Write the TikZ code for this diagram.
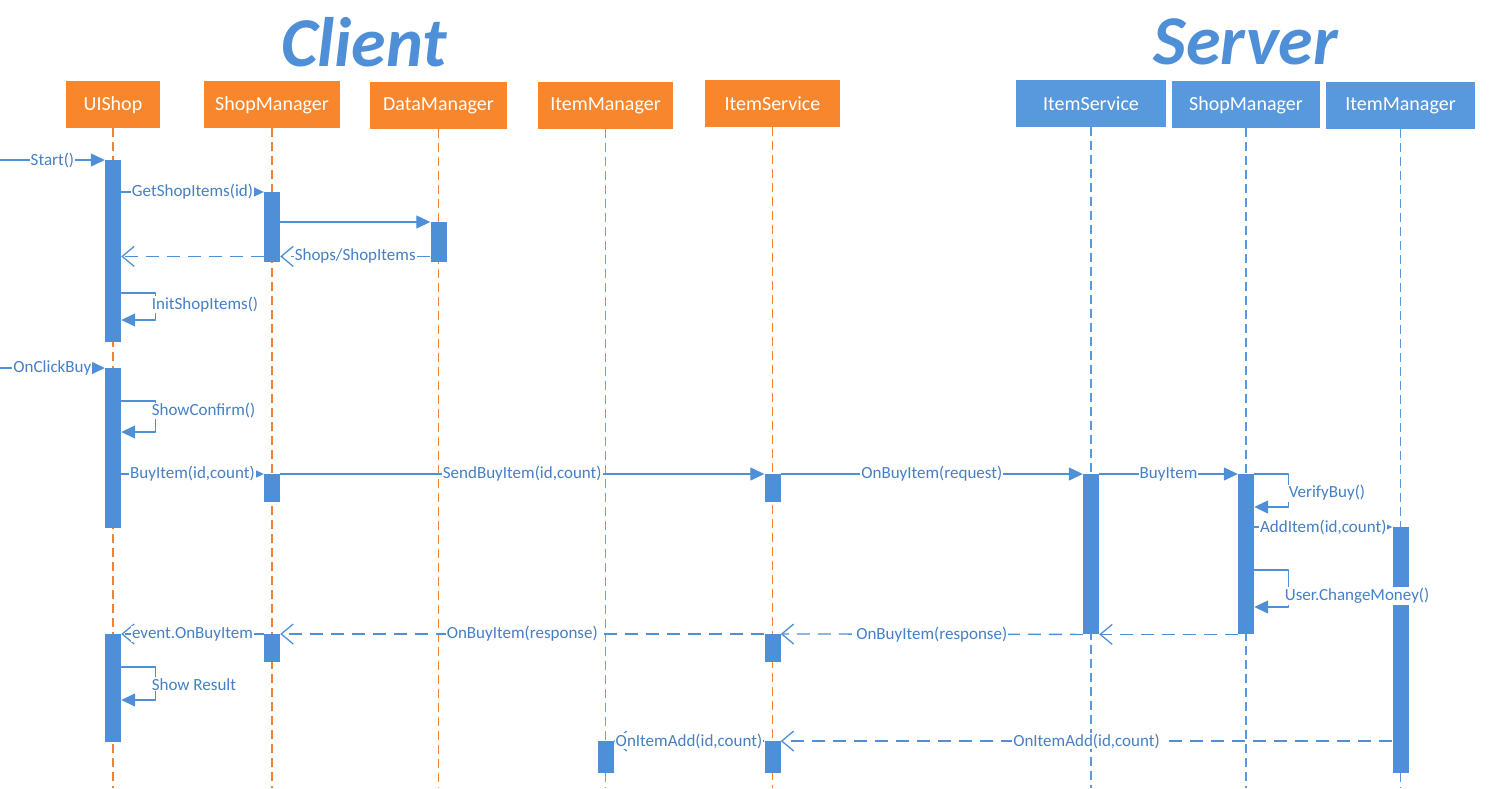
\documentclass[tikz,border=0pt]{standalone}
\usepackage{fontspec}
\setmainfont{Carlito}
\usetikzlibrary{arrows.meta}
\definecolor{corange}{HTML}{F7862C}
\definecolor{cline}{HTML}{F08232}
\definecolor{cblue}{HTML}{5898DC}
\definecolor{cbar}{HTML}{4E8FD8}
\definecolor{ctext}{HTML}{4580C6}
\begin{document}
\begin{tikzpicture}[x=1pt, y=-1pt, line join=round, font=\fontsize{17}{18}\selectfont,
  head/.style={minimum height=47pt, inner sep=0pt, anchor=base, text=white, font=\fontsize{20}{21}\selectfont},
  chead/.style={head, fill=corange, minimum width=136pt},
  shead/.style={head, fill=cblue, minimum width=149pt},
  clife/.style={cline, line width=1.3pt, dash pattern=on 9pt off 5pt},
  slife/.style={cblue, line width=1.3pt, dash pattern=on 9pt off 5pt},
  bar/.style={fill=cbar, minimum width=16pt, inner sep=0pt, anchor=north},
  msg/.style={cbar, line width=1.3pt, -{Triangle[length=14pt,width=13pt]}},
  ret/.style={cbar, line width=1.3pt, dash pattern=on 13pt off 8pt, -{Straight Barb[length=12pt,width=20pt]}},
  lbl/.style={fill=white, text=ctext, inner sep=1pt},
  title/.style={text=cbar, font=\fontsize{70}{70}\selectfont\bfseries\itshape}]
\useasboundingbox (0,0) rectangle (1500,788);
\coordinate (bot) at (0,788); \coordinate (in1) at (0,160); \coordinate (in2) at (0,368);
\node[title] (client) at (364,42) {Client}; \node[title] (server) at (1246,42) {Server};
% lifelines
\node[chead, minimum width=94pt] (ui) at (113,110) {UIShop};
\node[chead] (sm) at (272,110) {ShopManager};
\node[chead, minimum width=137pt] (dm) at (438.5,110) {DataManager};
\node[chead, minimum width=135pt] (cim) at (605.5,110) {ItemManager};
\node[chead, minimum width=135pt] (cs) at (772.5,110) {ItemService};
\node[shead, minimum width=150pt] (ss) at (1091,110) {ItemService};
\node[shead, minimum width=148pt] (ssm) at (1246,110) {ShopManager};
\node[shead] (sim) at (1400.5,110) {ItemManager};
\foreach \n in {ui,sm,dm,cim,cs} \draw[clife] (\n.south) -- (\n |- bot);
\foreach \n in {ss,ssm,sim} \draw[slife] (\n.south) -- (\n |- bot);
% activations
\node[bar, minimum height=182pt] (ui1) at (ui |- 0,160) {};
\node[bar, minimum height=160pt] (ui2) at (ui |- 0,368) {};
\node[bar, minimum height=108pt] (ui3) at (ui |- 0,634) {};
\node[bar, minimum height=70pt] (sm1) at (sm |- 0,192) {};
\node[bar, minimum height=28pt] (sm2) at (sm |- 0,474) {};
\node[bar, minimum height=28pt] (sm3) at (sm |- 0,634) {};
\node[bar, minimum height=40pt] (dm1) at (dm |- 0,222) {};
\node[bar, minimum height=32pt] (cim1) at (cim |- 0,741) {};
\node[bar, minimum height=28pt] (cs1) at (cs |- 0,474) {};
\node[bar, minimum height=28pt] (cs2) at (cs |- 0,634) {};
\node[bar, minimum height=32pt] (cs3) at (cs |- 0,741) {};
\node[bar, minimum height=160pt] (ss1) at (ss |- 0,474) {};
\node[bar, minimum height=160pt] (ssm1) at (ssm |- 0,474) {};
\node[bar, minimum height=246pt] (sim1) at (sim |- 0,527) {};
% messages
\draw[msg] (in1) -- (ui1.north west) node[lbl, midway]{Start()};
\draw[msg] (ui1.east |- sm1.north) -- (sm1.north west) node[lbl, midway]{GetShopItems(id)};
\draw[msg] (sm1.east |- dm1.north) -- (dm1.north west);
\coordinate (r1) at ([yshift=6pt]dm1.south west); \coordinate (r2) at ([yshift=6pt]sm1.south west);
\draw[ret] (r1) -- (sm1.east |- r1) node[lbl, midway]{Shops/ShopItems};
\draw[ret] (r2) -- (ui1.east |- r2);
\draw[msg] (ui1.east |- 0,293) -- ++(34,0) |- (ui1.east |- 0,320) node[lbl, pos=0.22, anchor=west, xshift=-5pt]{InitShopItems()};
\draw[msg] (in2) -- (ui2.north west) node[lbl, midway]{OnClickBuy};
\draw[msg] (ui2.east |- 0,401) -- ++(34,0) |- (ui2.east |- 0,432) node[lbl, pos=0.16, anchor=west, xshift=-5pt]{ShowConfirm()};
\draw[msg] (ui2.east |- sm2.north) -- (sm2.north west) node[lbl, midway]{BuyItem(id,count)};
\draw[msg] (sm2.north east) -- (cs1.north west) node[lbl, midway]{SendBuyItem(id,count)};
\draw[msg] (cs1.north east) -- (ss1.north west) node[lbl, midway]{OnBuyItem(request)};
\draw[msg] (ss1.north east) -- (ssm1.north west) node[lbl, midway]{BuyItem};
\draw[msg] (ssm1.north east) -- ++(34,0) |- (ssm1.east |- 0,507) node[lbl, pos=0.29, anchor=west, xshift=-1pt]{VerifyBuy()};
\draw[msg] (ssm1.east |- sim1.north) -- (sim1.north west) node[lbl, midway]{AddItem(id,count)};
\draw[msg] (ssm1.east |- 0,570) -- ++(34,0) |- (ssm1.east |- 0,607) node[lbl, pos=0.35, anchor=west, xshift=-5pt]{User.ChangeMoney()};
\draw[ret] (ssm1.south west) -- (ss1.south east);
\draw[ret] (ss1.south west) -- (cs2.north east) node[lbl, midway]{OnBuyItem(response)};
\draw[ret] (cs2.north west) -- (sm3.north east) node[lbl, midway]{OnBuyItem(response)};
\draw[ret] (sm3.north west) -- (ui3.north east) node[lbl, midway]{event.OnBuyItem};
\draw[msg] (ui3.east |- 0,667) -- ++(34,0) |- (ui3.east |- 0,700) node[lbl, pos=0.26, anchor=west, xshift=-5pt]{Show Result};
\draw[ret] (sim1.west |- cs3.north) -- (cs3.north east) node[lbl, midway]{OnItemAdd(id,count)};
\draw[ret] (cs3.north west) -- (cim1.north east) node[lbl, midway]{OnItemAdd(id,count)};
\end{tikzpicture}
\end{document}
